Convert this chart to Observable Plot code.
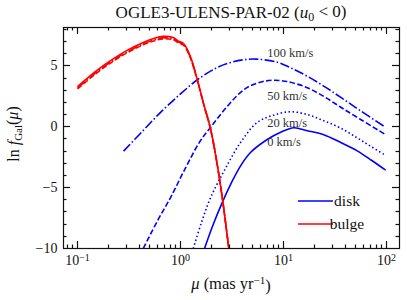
<!DOCTYPE html>
<html><head><meta charset="utf-8">
<script src="https://cdn.jsdelivr.net/npm/d3@7"></script>
<script src="https://cdn.jsdelivr.net/npm/@observablehq/plot@0.6"></script>
<style>body{margin:0;background:#fff} svg{display:block}</style>
</head><body><div id="chart"></div>
<script>
// ---- data: [mu (mas/yr), ln f_Gal(mu)] ----
const disk0 = [[1.71,-10.0],[2.05,-8.15],[2.54,-6.23],[3.1,-4.65],[3.83,-3.21],[4.78,-2.12],[6.95,-1.05],[9.5,-0.43],[12.6,-0.08],[17,-0.33],[24.6,-0.65],[36,-1.3],[52,-1.98],[72,-2.77],[98,-3.56]];
const disk20 = [[1.33,-10.0],[1.6,-7.85],[1.96,-5.82],[2.7,-3.5],[3.83,-1.29],[5.56,0.35],[8,0.95],[11.7,1.23],[17,1.0],[24.6,0.49],[36,-0.12],[52,-0.92],[70,-1.6],[98,-2.35]];
const disk50 = [[0.435,-10.0],[0.6,-7.7],[0.8,-5.82],[1.1,-3.5],[1.56,-1.15],[1.96,-0.05],[2.7,1.45],[3.83,2.82],[4.78,3.37],[6.2,3.7],[8.05,3.82],[11,3.7],[17,3.21],[25,2.45],[35.7,1.62],[55,0.64],[98,-0.65]];
const disk100 = [[0.28,-2.0],[0.43,-0.35],[0.64,1.18],[1.0,2.7],[1.47,3.88],[2.2,4.8],[3.0,5.25],[4.1,5.5],[5.5,5.55],[8.7,5.3],[12,4.8],[17,4.15],[25,3.3],[36,2.41],[55,1.35],[98,-0.05]];
const bulgeSolid = [[0.1,3.3],[0.15,4.55],[0.209,5.43],[0.3,6.25],[0.44,6.94],[0.55,7.25],[0.68,7.42],[0.85,7.32],[0.95,7.05],[1.08,6.8],[1.25,5.74],[1.45,3.93],[1.68,1.87],[1.96,-0.19],[2.27,-3.07],[2.57,-6.09],[2.94,-9.93],[2.97,-10.2]];
const bulgeDashed = [[0.1,3.1],[0.15,4.35],[0.209,5.23],[0.3,6.05],[0.44,6.75],[0.55,7.05],[0.68,7.22],[0.85,7.14],[0.95,6.9],[1.08,6.65],[1.25,5.62],[1.45,3.85],[1.68,1.82],[1.96,-0.22],[2.27,-3.1],[2.57,-6.12],[2.94,-9.95],[2.97,-10.2]];
const bulgeDashDot = [[0.1,3.18],[0.15,4.43],[0.209,5.31],[0.3,6.13],[0.44,6.82],[0.55,7.13],[0.68,7.3],[0.85,7.22],[0.95,6.97],[1.08,6.72],[1.25,5.68],[1.45,3.89],[1.68,1.84],[1.96,-0.2],[2.27,-3.08],[2.57,-6.1],[2.94,-9.94],[2.97,-10.2]];

const kmsLabels = ["100 km/s","50 km/s","20 km/s","0 km/s"];
const kmsAt = [[6.95,6.05],[6.95,2.56],[6.95,0.34],[6.95,-1.27]];

const xMajorTicks = [0.1,1,10,100];
const yMajorTicks = [-10,-5,0,5];
const legendNames = ["disk","bulge"];
const legendColors = ["#0000ff","#ff0000"];

// ---- build ----
const BLUE="#0000ff", RED="#ff0000";
const dash = {solid:null, dashed:"5.5,2.4", dashdot:"9.6,2.4,1.5,2.4", dotted:"1.5,2.5"};
const series = [
  {pts:disk0, color:BLUE, d:"solid"},
  {pts:disk20, color:BLUE, d:"dotted"},
  {pts:disk50, color:BLUE, d:"dashed"},
  {pts:disk100, color:BLUE, d:"dashdot"},
  {pts:bulgeDashDot, color:RED, d:"dashdot"},
  {pts:bulgeDashed, color:RED, d:"dashed"},
  {pts:bulgeSolid, color:RED, d:"solid"}
];
const W=407,H=300,ML=63,MR=8,MT=27,MB=52;
const PW=W-ML-MR, PH=H-MT-MB;
const xDomain=[0.0731,133.7], yDomain=[-10,8.15];
const xMinor=[]; for(let e=-2;e<=2;e++) for(let k=2;k<=9;k++){const v=k*10**e; if(v>xDomain[0]&&v<xDomain[1]) xMinor.push(v);}
const yMinor=[]; for(let v=-9;v<=8;v++) if(v%5!==0) yMinor.push(v);

const marks=[];
for(const s of series){
  marks.push(Plot.line(s.pts,{x:d=>d[0],y:d=>d[1],stroke:s.color,strokeWidth:1.6,strokeDasharray:dash[s.d],strokeLinecap:"butt",curve:"catmull-rom",clip:true}));
}
marks.push(Plot.text(kmsLabels,{x:(d,i)=>kmsAt[i][0],y:(d,i)=>kmsAt[i][1],text:d=>d,textAnchor:"start",fill:"#333",fontSize:12.5}));
marks.push(Plot.axisX({ticks:xMajorTicks,tickSize:0,tickPadding:7,tickFormat:d=>String(Math.round(Math.log10(d))),fontSize:14,label:null}));
marks.push(Plot.axisY({ticks:yMajorTicks,tickSize:0,tickPadding:6,tickFormat:d=>d<0?"\u2212"+(-d):String(d),fontSize:14,label:null}));
marks.push(Plot.frame({stroke:"#111",strokeWidth:1.2}));

const plot = Plot.plot({
  width:W,height:H,marginLeft:ML,marginRight:MR,marginTop:MT,marginBottom:MB,
  style:{fontFamily:"'Liberation Serif', serif",fontSize:"14px",background:"white",color:"#111"},
  x:{type:"log",domain:xDomain},
  y:{domain:yDomain},
  marks
});
document.getElementById("chart").appendChild(plot);

const svg=d3.select(plot);
// inward ticks on all four sides, positioned with Plot's own scales
const sx=plot.scale("x"), sy=plot.scale("y");
const fx=v=>sx&&sx.apply?sx.apply(v):ML+PW*Math.log(v/xDomain[0])/Math.log(xDomain[1]/xDomain[0]);
const fy=v=>sy&&sy.apply?sy.apply(v):MT+PH*(yDomain[1]-v)/(yDomain[1]-yDomain[0]);
const tg=svg.append("g").attr("stroke","#111").attr("stroke-width",1.2);
const x0=ML, x1=W-MR, y0=MT, y1=H-MB;
const addX=(vals,len)=>vals.forEach(v=>{const p=Math.round(fx(v))+0.5;
  tg.append("line").attr("x1",p).attr("x2",p).attr("y1",y1).attr("y2",y1-len);
  tg.append("line").attr("x1",p).attr("x2",p).attr("y1",y0).attr("y2",y0+len);});
const addY=(vals,len)=>vals.forEach(v=>{const p=Math.round(fy(v))+0.5;
  tg.append("line").attr("y1",p).attr("y2",p).attr("x1",x0).attr("x2",x0+len);
  tg.append("line").attr("y1",p).attr("y2",p).attr("x1",x1).attr("x2",x1-len);});
addX(xMajorTicks,7); addX(xMinor,3.5);
addY([-5,0,5],7); addY(yMinor,3.5);

// superscript tick labels 10^n
svg.selectAll('g[aria-label="x-axis tick label"] text').each(function(){
  const t=d3.select(this); const e=t.text(); t.text("");
  t.append("tspan").text("10");
  t.append("tspan").attr("dy","-0.45em").attr("font-size","10px").text(e.replace("-","\u2212"));
});
const F="'Liberation Serif', serif";
// title
const ti=svg.append("text").attr("x",231).attr("y",18).attr("text-anchor","middle").attr("font-family",F).attr("font-size",17).attr("fill","#111");
ti.append("tspan").text("OGLE3-ULENS-PAR-02 (");
ti.append("tspan").attr("font-style","italic").text("u");
ti.append("tspan").attr("dy","0.25em").attr("font-size","12px").text("0");
ti.append("tspan").attr("dy","-0.25em").text(" < 0)");
// x label
const xl=svg.append("text").attr("x",231).attr("y",289).attr("text-anchor","middle").attr("font-family",F).attr("font-size",16.5).attr("fill","#111");
xl.append("tspan").attr("font-style","italic").text("\u03bc");
xl.append("tspan").text(" (mas yr");
xl.append("tspan").attr("dy","-0.45em").attr("font-size","11px").text("\u22121");
xl.append("tspan").attr("dy","0.45em").text(")");
// y label
const yl=svg.append("text").attr("transform","translate(19,134) rotate(-90)").attr("text-anchor","middle").attr("font-family",F).attr("font-size",16).attr("fill","#111");
yl.append("tspan").text("ln ");
yl.append("tspan").attr("font-style","italic").text("f");
yl.append("tspan").attr("dy","0.3em").attr("font-size","11px").text("Gal");
yl.append("tspan").attr("dy","-0.3em").text("(");
yl.append("tspan").attr("font-style","italic").text("\u03bc");
yl.append("tspan").text(")");
// legend
legendNames.forEach((n,i)=>{
  const y=[201,224][i];
  svg.append("line").attr("x1",298).attr("x2",333).attr("y1",y).attr("y2",y).attr("stroke",legendColors[i]).attr("stroke-width",1.6);
  svg.append("text").attr("x",347).attr("y",y+5).attr("font-family",F).attr("font-size",15.5).attr("fill","#111").text(n);
});
</script></body></html>
